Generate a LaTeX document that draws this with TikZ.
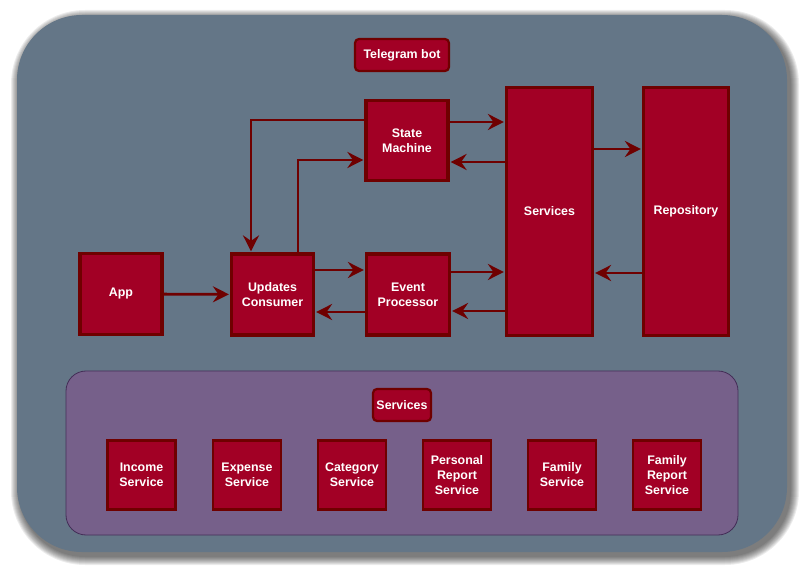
\documentclass[tikz,border=0pt]{standalone}
\usepackage{fontspec}
\setmainfont{Liberation Sans}
\usetikzlibrary{arrows.meta}
\definecolor{slate}{HTML}{647687}
\definecolor{plum}{HTML}{76608A}
\definecolor{plumedge}{HTML}{432D57}
\definecolor{crimson}{HTML}{A20025}
\definecolor{darkred}{HTML}{6F0000}
\tikzset{
  block/.style={draw=darkred, fill=crimson, line width=3.2pt, text=white,
    font=\fontsize{12.4}{15}\selectfont\bfseries, align=center, inner sep=0pt},
  bigblock/.style={block, minimum width=82pt, minimum height=81pt},
  tallblock/.style={block, minimum width=85pt, minimum height=248pt},
  svcblock/.style={block, line width=2.8pt, minimum width=68pt, minimum height=69pt},
  tagblock/.style={block, line width=2.2pt, rounded corners=4pt, minimum height=32pt},
  link/.style={draw=darkred, line width=2.8pt,
    -{Stealth[length=16pt,width=16pt,inset=5.5pt]}, shorten >=1pt}
}
\begin{document}
\begin{tikzpicture}[x=1pt, y=-1pt]
\useasboundingbox (0,0) rectangle (804,569);
\fill[white] (0,0) rectangle (804,569);

% soft shadow behind the main panel
\foreach \g in {9,8,...,1}{
  \fill[black, opacity=0.075, rounded corners={65pt+\g pt}]
    (17+3-\g, 15+4-\g) rectangle (787+3+\g, 552+4+\g);
}
% main panel
\fill[slate, rounded corners=65pt] (17,15) rectangle (787,552);

% lower container for the individual services
\draw[plumedge, fill=plum, line width=0.8pt, rounded corners=20pt]
  (66,371) rectangle (738,535);

% title tags
\node[tagblock, minimum width=94pt] (tg) at (402,55) {Telegram bot};
\node[tagblock, minimum width=58pt] (svctag) at (402,405) {Services};

% main blocks
\node[bigblock] (app) at (121,294) {App};
\node[bigblock] (uc) at (272.5,294.5) {Updates\\Consumer};
\node[bigblock, minimum width=83pt] (ep) at (408,294.5) {Event\\Processor};
\node[bigblock, minimum height=80pt] (sm) at (407,140.5) {State\\Machine};
\node[tallblock, minimum width=86pt] (svc) at (549.5,211.5) {Services};
\node[tallblock] (repo) at (686,211.5) {Repository};

% individual services
\node[svcblock] (inc) at (141.5,475) {Income\\Service};
\node[svcblock] (exp) at (247,475) {Expense\\Service};
\node[svcblock] (cat) at (352,475) {Category\\Service};
\node[svcblock] (prs) at (457,475) {Personal\\Report\\Service};
\node[svcblock] (fam) at (562,475) {Family\\Service};
\node[svcblock] (frs) at (667,475) {Family\\Report\\Service};

% connectors
\draw[link] (app) -- (uc);
\draw[link] (sm.west |- 0,120) -| (251,0 |- uc.north);
\draw[link] (298,0 |- uc.north) |- (sm.west |- 0,160);
\draw[link] (sm.east |- 0,122) -- (svc.west |- 0,122);
\draw[link] (svc.west |- 0,162) -- (sm.east |- 0,162);
\draw[link] (uc.east |- 0,270) -- (ep.west |- 0,270);
\draw[link] (ep.east |- 0,272) -- (svc.west |- 0,272);
\draw[link] (svc.west |- 0,311) -- (ep.east |- 0,311);
\draw[link] (ep.west |- 0,312) -- (uc.east |- 0,312);
\draw[link] (svc.east |- 0,149) -- (repo.west |- 0,149);
\draw[link] (repo.west |- 0,273) -- (svc.east |- 0,273);
\end{tikzpicture}
\end{document}
